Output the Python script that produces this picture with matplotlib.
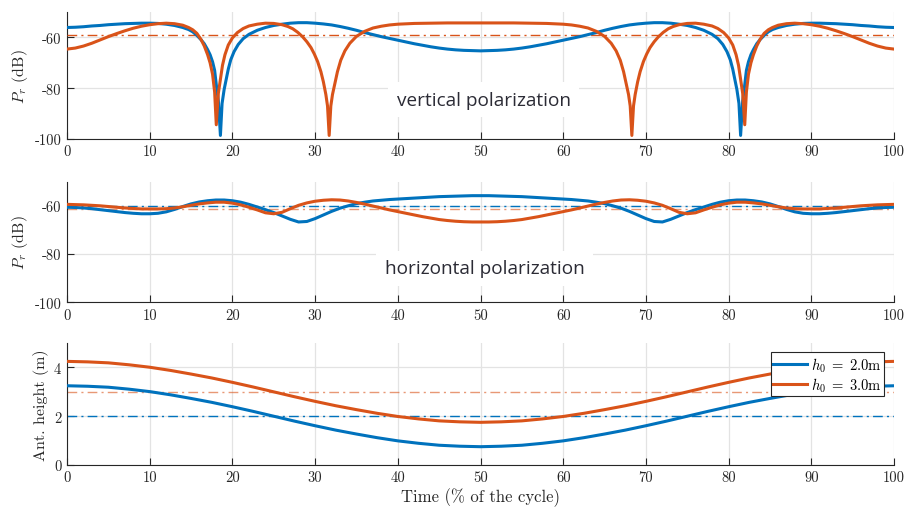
import matplotlib
matplotlib.use("Agg")
import matplotlib.pyplot as plt

plt.rcParams['font.family'] = 'serif'
plt.rcParams['font.serif'] = ['cmr10']
plt.rcParams['mathtext.fontset'] = 'cm'
plt.rcParams['axes.unicode_minus'] = False

BLUE = '#0072BD'
ORANGE = '#D95319'

# ---------------- data: vertical polarization ----------------
t_v_blue = [0, 1, 2, 3, 4, 5, 6, 7, 8, 9, 10, 11, 12, 13, 14,
            14.7, 15.2, 15.7, 16.2, 16.6, 17.0, 17.3, 17.6, 17.85, 18.1, 18.3, 18.55, 18.75, 19.0, 19.25,
            19.5, 19.8, 20.2, 20.7, 21.3,
            22, 23, 24, 25, 26, 27, 28, 29, 30, 31, 32, 33, 34, 35, 36, 37, 38, 39, 40, 41, 42, 43, 44, 45,
            46, 47, 48, 49, 50,
            51, 52, 53, 54, 55, 56, 57, 58, 59, 60, 61, 62, 63, 64, 65, 66, 67, 68, 69, 70, 71, 72, 73, 74,
            75, 76, 77, 78,
            78.7, 79.3, 79.8, 80.2, 80.5, 80.75, 81.0, 81.25, 81.45, 81.7, 81.9, 82.15, 82.4, 82.7, 83.0,
            83.4, 83.8, 84.3, 84.8, 85.3,
            86, 87, 88, 89, 90, 91, 92, 93, 94, 95, 96, 97, 98, 99, 100]
p_v_blue = [-56.1, -56.0, -55.8, -55.5, -55.3, -55.0, -54.8, -54.6, -54.5, -54.4, -54.4, -54.5, -54.8, -55.3, -56.1,
            -56.9, -57.8, -59.2, -60.9, -62.5, -64.8, -66.8, -69.6, -73.0, -80.0, -85.0, -98.6, -86.0, -80.5, -76.5,
            -72.5, -68.8, -65.6, -62.8, -60.5,
            -58.8, -57.2, -56.1, -55.3, -54.8, -54.4, -54.2, -54.2, -54.4, -54.7, -55.1, -55.7, -56.4, -57.2, -58.1,
            -58.9, -59.7, -60.4, -61.1, -61.8, -62.5, -63.1, -63.7, -64.2, -64.6, -64.9, -65.1, -65.2,
            -65.3,
            -65.2, -65.1, -64.9, -64.6, -64.2, -63.7, -63.1, -62.5, -61.8, -61.1, -60.4, -59.7, -58.9, -58.1, -57.2,
            -56.4, -55.7, -55.1, -54.7, -54.4, -54.2, -54.2, -54.4, -54.8, -55.3, -56.1, -57.2, -58.8,
            -60.5, -62.8, -65.6, -68.8, -72.5, -76.5, -80.5, -86.0, -98.6, -85.0, -80.0, -73.0, -69.6, -66.8, -64.8,
            -62.5, -60.9, -59.2, -57.8, -56.9,
            -56.1, -55.3, -54.8, -54.5, -54.4, -54.4, -54.5, -54.6, -54.8, -55.0, -55.3, -55.5, -55.8, -56.0, -56.1]

t_v_orange = [0, 1, 2, 3, 4, 5, 6, 7, 8, 9, 10, 11, 12, 13, 14,
              14.7, 15.2, 15.7, 16.2, 16.6, 17.0, 17.3, 17.6, 17.85, 18.05, 18.3, 18.55, 18.8, 19.1, 19.5, 20.0,
              20.6, 21.3,
              22, 23, 24, 25, 26,
              26.7, 27.3, 27.9, 28.5, 29.0, 29.5, 29.9, 30.3, 30.7, 31.0, 31.3, 31.5, 31.7, 31.9, 32.1, 32.4,
              32.7, 33.1, 33.6, 34.2,
              35, 36, 37, 38, 39, 40, 42, 44, 46, 48,
              50,
              52, 54, 56, 58, 60, 61, 62, 63, 64, 65,
              65.8, 66.4, 66.9, 67.3, 67.6, 67.9, 68.1, 68.3, 68.5, 68.7, 69.0, 69.3, 69.7, 70.1, 70.5, 71.0,
              71.5, 72.1, 72.7, 73.3,
              74, 75, 76, 77, 78,
              78.7, 79.4, 80.0, 80.5, 80.9, 81.2, 81.45, 81.7, 81.95, 82.15, 82.4, 82.7, 83.0, 83.4, 83.8, 84.3,
              84.8, 85.3,
              86, 87, 88, 89, 90, 91, 92, 93, 94, 95, 96, 97, 98, 99, 100]
p_v_orange = [-64.6, -64.2, -63.4, -62.3, -61.0, -59.7, -58.5, -57.4, -56.4, -55.6, -55.0, -54.6, -54.4, -54.6, -55.2,
              -56.1, -57.0, -58.4, -60.8, -63.4, -66.8, -70.0, -74.5, -81.5, -94.4, -82.0, -76.5, -71.0, -66.8,
              -63.0, -60.2, -58.1, -56.5,
              -55.5, -54.8, -54.4, -54.5, -55.0,
              -55.7, -56.6, -58.0, -59.8, -61.7, -64.0, -66.5, -69.5, -73.5, -77.5, -82.5, -87.0, -98.6, -87.0,
              -82.5, -78.0, -73.5, -69.0, -65.3, -62.3,
              -59.6, -57.6, -56.3, -55.6, -55.1, -54.8, -54.5, -54.4, -54.3, -54.3,
              -54.3,
              -54.3, -54.3, -54.4, -54.5, -54.8, -55.1, -55.6, -56.3, -57.6, -59.6,
              -62.3, -65.3, -69.0, -73.5, -78.0, -82.5, -87.0, -98.6, -87.0, -82.5, -77.5, -73.5, -69.5, -66.5,
              -64.0, -61.7, -59.8, -58.0, -56.6, -55.7,
              -55.0, -54.5, -54.4, -54.8, -55.5,
              -56.5, -58.1, -60.2, -63.0, -66.8, -71.0, -76.5, -82.0, -94.4, -81.5, -74.5, -70.0, -66.8, -63.4,
              -60.8, -58.4, -57.0, -56.1,
              -55.2, -54.6, -54.4, -54.6, -55.0, -55.6, -56.4, -57.4, -58.5, -59.7, -61.0, -62.3, -63.4, -64.2, -64.6]

mean_v_orange = -59.1

# ---------------- data: horizontal polarization ----------------
t_h = list(range(0, 101))
p_h_blue = [-60.6, -60.7, -60.9, -61.2, -61.6, -62.0, -62.4, -62.8, -63.1, -63.3, -63.3, -63.1, -62.5, -61.5, -60.3,
            -59.2, -58.4, -57.9, -57.6, -57.6, -57.9, -58.5, -59.4, -60.5, -61.6, -62.8, -64.2, -65.6, -66.7, -66.5,
            -65.3, -63.8, -62.3, -61.0, -60.0, -59.1, -58.5, -58.0, -57.7, -57.4, -57.2, -57.0, -56.8, -56.6, -56.4,
            -56.2, -56.1, -56.0, -55.9, -55.8,
            -55.8,
            -55.8, -55.9, -56.0, -56.1, -56.2, -56.4, -56.6, -56.8, -57.0, -57.2, -57.4, -57.7, -58.0, -58.5, -59.1,
            -60.0, -61.0, -62.3, -63.8, -65.3, -66.5, -66.7, -65.6, -64.2, -62.8, -61.6, -60.5, -59.4, -58.5, -57.9,
            -57.6, -57.6, -57.9, -58.4, -59.2, -60.3, -61.5, -62.5, -63.1, -63.3, -63.3, -63.1, -62.8, -62.4, -62.0,
            -61.6, -61.2, -60.9, -60.7, -60.6]
p_h_orange = [-59.4, -59.5, -59.6, -59.8, -60.0, -60.3, -60.6, -60.9, -61.1, -61.3, -61.3, -61.3, -61.2, -60.9, -60.4,
              -59.8, -59.2, -58.8, -58.5, -58.5, -58.9, -59.6, -60.6, -61.7, -62.9, -63.3, -62.7, -61.2, -59.8, -58.8,
              -58.1, -57.7, -57.5, -57.6, -58.0, -58.6, -59.3, -60.1, -60.9, -61.7, -62.4, -63.1, -63.8, -64.5, -65.1,
              -65.7, -66.1, -66.4, -66.6, -66.7,
              -66.7,
              -66.7, -66.6, -66.4, -66.1, -65.7, -65.1, -64.5, -63.8, -63.1, -62.4, -61.7, -60.9, -60.1, -59.3, -58.6,
              -58.0, -57.6, -57.5, -57.7, -58.1, -58.8, -59.8, -61.2, -62.7, -63.3, -62.9, -61.7, -60.6, -59.6, -58.9,
              -58.5, -58.5, -58.8, -59.2, -59.8, -60.4, -60.9, -61.2, -61.3, -61.3, -61.3, -61.1, -60.9, -60.6, -60.3,
              -60.0, -59.8, -59.6, -59.5, -59.4]
mean_h_blue = -60.0
mean_h_orange = -61.2

# ---------------- data: antenna height ----------------
t_ht = [0, 2.5, 5, 7.5, 10, 12.5, 15, 17.5, 20, 22.5, 25, 27.5, 30, 32.5, 35, 37.5, 40, 42.5, 45, 47.5, 50,
        52.5, 55, 57.5, 60, 62.5, 65, 67.5, 70, 72.5, 75, 77.5, 80, 82.5, 85, 87.5, 90, 92.5, 95, 97.5, 100]
ht_blue = [3.25, 3.23, 3.19, 3.11, 3.01, 2.88, 2.73, 2.57, 2.39, 2.20, 2.00, 1.80, 1.61, 1.43, 1.27, 1.12, 0.99,
           0.89, 0.81, 0.77, 0.75, 0.77, 0.81, 0.89, 0.99, 1.12, 1.27, 1.43, 1.61, 1.80, 2.00, 2.20, 2.39, 2.57,
           2.73, 2.88, 3.01, 3.11, 3.19, 3.23, 3.25]
ht_orange = [4.25, 4.23, 4.19, 4.11, 4.01, 3.88, 3.73, 3.57, 3.39, 3.20, 3.00, 2.80, 2.61, 2.43, 2.27, 2.12, 1.99,
             1.89, 1.81, 1.77, 1.75, 1.77, 1.81, 1.89, 1.99, 2.12, 2.27, 2.43, 2.61, 2.80, 3.00, 3.20, 3.39, 3.57,
             3.73, 3.88, 4.01, 4.11, 4.19, 4.23, 4.25]
h0_blue = 2.0
h0_orange = 3.0
legend_labels = [r'$h_0\;=\;2.0$m', r'$h_0\;=\;3.0$m']

x_ticks = list(range(0, 101, 10))
p_ticks = [-100, -80, -60]
h_ticks = [0, 2, 4]

# ---------------- figure ----------------
fig = plt.figure(figsize=(9.08, 5.10), dpi=100)
ax1 = fig.add_axes([0.0738, 0.7255, 0.9108, 0.249])
ax2 = fig.add_axes([0.0738, 0.4053, 0.9108, 0.2365])
ax3 = fig.add_axes([0.0738, 0.0863, 0.9108, 0.239])

DASH = (0, (7, 3, 1.5, 3))
TXT = '#262626'


def style(ax):
    ax.set_xlim(0, 100)
    ax.set_xticks(x_ticks)
    ax.grid(True, color='#e3e3e3', linewidth=0.9)
    ax.set_axisbelow(True)
    for s in ['top', 'right']:
        ax.spines[s].set_visible(False)
    for s in ['left', 'bottom']:
        ax.spines[s].set_color(TXT)
        ax.spines[s].set_linewidth(0.8)
    ax.tick_params(direction='in', length=5, width=0.8, color=TXT, labelcolor=TXT, labelsize=10.5, pad=4)


# vertical polarization
ax1.plot(t_v_blue, p_v_blue, color=BLUE, lw=2.2, zorder=3)
ax1.plot(t_v_orange, p_v_orange, color=ORANGE, lw=2.2, zorder=3)
ax1.axhline(mean_v_orange, color=ORANGE, lw=1.0, ls=DASH, zorder=2.6)
ax1.set_ylim(-100, -50)
ax1.set_yticks(p_ticks)
ax1.set_ylabel(r'$P_r$ (dB)', fontsize=11.5, color=TXT, labelpad=3)
style(ax1)
ax1.text(50.4, -84.6, 'vertical polarization', family='Open Sans', fontsize=13.7, color='#2b2b35',
         ha='center', va='center', zorder=2.5,
         bbox=dict(boxstyle='square,pad=0.45', fc='white', ec='none'))

# horizontal polarization
ax2.plot(t_h, p_h_blue, color=BLUE, lw=2.2, zorder=3)
ax2.plot(t_h, p_h_orange, color=ORANGE, lw=2.2, zorder=3)
ax2.axhline(mean_h_orange, color=ORANGE, lw=1.0, ls=DASH, alpha=0.6, zorder=2)
ax2.axhline(mean_h_blue, color=BLUE, lw=1.0, ls=DASH, zorder=2)
ax2.set_ylim(-100, -50)
ax2.set_yticks(p_ticks)
ax2.set_ylabel(r'$P_r$ (dB)', fontsize=11.5, color=TXT, labelpad=3)
style(ax2)
ax2.text(50.5, -85.9, 'horizontal polarization', family='Open Sans', fontsize=13.7, color='#2b2b35',
         ha='center', va='center', zorder=2.5,
         bbox=dict(boxstyle='square,pad=0.45', fc='white', ec='none'))

# antenna height
l1, = ax3.plot(t_ht, ht_blue, color=BLUE, lw=2.2, zorder=3)
l2, = ax3.plot(t_ht, ht_orange, color=ORANGE, lw=2.2, zorder=3)
ax3.axhline(h0_blue, color=BLUE, lw=1.0, ls=DASH, zorder=2)
ax3.axhline(h0_orange, color=ORANGE, lw=1.0, ls=DASH, alpha=0.6, zorder=2)
ax3.set_ylim(0, 5)
ax3.set_yticks(h_ticks)
ax3.set_ylabel('Ant. height (m)', fontsize=11.5, color=TXT)
ax3.set_xlabel('Time (% of the cycle)', fontsize=12, color=TXT, labelpad=2)
style(ax3)
leg = ax3.legend([l1, l2], legend_labels, loc='upper right', bbox_to_anchor=(0.988, 0.925),
                 fontsize=10.5, frameon=True, fancybox=False, framealpha=1, edgecolor=TXT,
                 handlelength=2.3, handletextpad=0.25, borderpad=0.2, labelspacing=0.1, borderaxespad=0.0)
leg.get_frame().set_linewidth(0.8)
leg.set_zorder(5)

fig.savefig('out.png', dpi=100)
